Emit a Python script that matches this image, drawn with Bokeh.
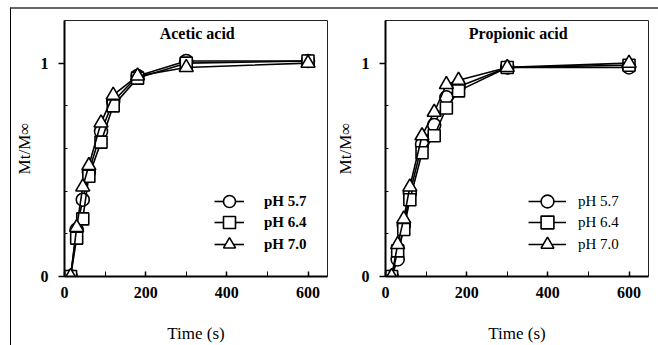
from bokeh.plotting import figure
from bokeh.models import Range1d, FixedTicker, Label, Legend, LegendItem, InlineStyleSheet
from bokeh.layouts import row
from bokeh.embed import file_html
from bokeh.resources import INLINE

# ---- data ----
acetic_t = [15, 30, 45, 60, 90, 120, 180, 300, 600]
acetic_ph57 = [0.0, 0.22, 0.36, 0.49, 0.68, 0.82, 0.94, 1.01, 1.01]
acetic_ph64 = [0.0, 0.18, 0.27, 0.47, 0.63, 0.80, 0.93, 1.00, 1.01]
acetic_ph70 = [0.0, 0.23, 0.42, 0.52, 0.72, 0.85, 0.94, 0.98, 1.00]

prop_t = [15, 30, 45, 60, 90, 120, 150, 180, 300, 600]
prop_ph57 = [0.0, 0.08, 0.24, 0.39, 0.62, 0.71, 0.84, 0.89, 0.98, 0.98]
prop_ph64 = [0.0, 0.12, 0.22, 0.36, 0.58, 0.66, 0.79, 0.87, 0.98, 0.99]
prop_ph70 = [0.0, 0.15, 0.27, 0.42, 0.66, 0.77, 0.90, 0.92, 0.98, 1.00]

series_labels = ["pH 5.7", "pH 6.4", "pH 7.0"]
series_markers = ["circle", "square", "triangle"]
series_sizes = [13, 12, 14]

x_ticks = [0, 200, 400, 600]
x_minor = [100, 300, 500]
y_ticks = [0, 1]
y_minor = [0.2, 0.4, 0.6, 0.8]

FONT = "'Liberation Serif', 'Times New Roman', serif"


def make_panel(title, t, ys, width, mbl, mbr, legend_bold, legend_x, glyph_w, standoff):
    p = figure(width=width, height=336, output_backend="svg", toolbar_location=None,
               x_range=Range1d(0, 648), y_range=Range1d(0, 1.2),
               min_border_left=mbl, min_border_right=mbr,
               min_border_top=11, min_border_bottom=68)
    p.grid.visible = False
    p.outline_line_color = "#222222"
    p.outline_line_width = 1
    p.background_fill_color = "white"
    p.border_fill_color = None

    row_y = [59, 38, 16]
    for y, lab, mk, sz, ly in zip(ys, series_labels, series_markers, series_sizes, row_y):
        r1 = p.line(t, y, line_color="black", line_width=1.6)
        r2 = p.scatter(t, y, marker=mk, size=sz, fill_color="white",
                       line_color="black", line_width=1.6)
        leg = Legend(items=[LegendItem(label=lab, renderers=[r1, r2])],
                     location=(legend_x, ly), orientation="vertical",
                     glyph_width=glyph_w, glyph_height=32, spacing=0, padding=0,
                     margin=0, label_standoff=standoff, label_height=20,
                     border_line_color=None, background_fill_alpha=0,
                     label_text_font=FONT, label_text_font_size="15px",
                     label_text_font_style="bold" if legend_bold else "normal",
                     label_text_color="black")
        p.add_layout(leg, "center")

    p.xaxis.ticker = FixedTicker(ticks=x_ticks, minor_ticks=x_minor)
    p.yaxis.ticker = FixedTicker(ticks=y_ticks, minor_ticks=y_minor)
    for ax in (p.xaxis[0], p.yaxis[0]):
        ax.axis_line_width = 2
        ax.axis_line_color = "black"
        ax.major_tick_line_color = "black"
        ax.minor_tick_line_color = "black"
        ax.major_tick_line_width = 1.5
        ax.minor_tick_line_width = 1
        ax.major_label_text_font = FONT
        ax.major_label_text_font_size = "16px"
        ax.major_label_text_font_style = "bold"
        ax.major_label_text_color = "black"
        ax.axis_label_text_font = FONT
        ax.axis_label_text_font_size = "17px"
        ax.axis_label_text_color = "black"
    p.xaxis.major_tick_in = 5
    p.xaxis.major_tick_out = 0
    p.xaxis.minor_tick_in = 5
    p.xaxis.minor_tick_out = 0
    p.xaxis.major_label_standoff = 10
    p.xaxis.axis_label = "Time (s)"
    p.xaxis.axis_label_standoff = 23
    p.xaxis.axis_label_text_font_style = "normal"

    p.yaxis.major_tick_in = 0
    p.yaxis.major_tick_out = 6
    p.yaxis.minor_tick_in = 3
    p.yaxis.minor_tick_out = 0
    p.yaxis.major_label_standoff = 10
    p.yaxis.axis_label = "Mt/M\u221e"
    p.yaxis.axis_label_standoff = 4
    p.yaxis.axis_label_text_font_style = "normal"

    p.add_layout(Label(x=327, y=1.14, text=title, text_align="center",
                       text_baseline="middle", text_font=FONT,
                       text_font_size="16px", text_font_style="bold",
                       text_color="black"))
    return p


left = make_panel("Acetic acid", acetic_t, [acetic_ph57, acetic_ph64, acetic_ph70],
                  319, 52, 3, True, 150, 30, 20)
right = make_panel("Propionic acid", prop_t, [prop_ph57, prop_ph64, prop_ph70],
                   328, 55, 10, False, 143, 38, 12)

css = InlineStyleSheet(css=":host { border-top: 2px solid #666666 !important; "
                           "border-left: 1px solid #000000 !important; "
                           "background-color: white; }")
layout = row(left, right, margin=(7, 0, 0, 10), stylesheets=[css])

open("out.html", "w").write(file_html(layout, INLINE))
